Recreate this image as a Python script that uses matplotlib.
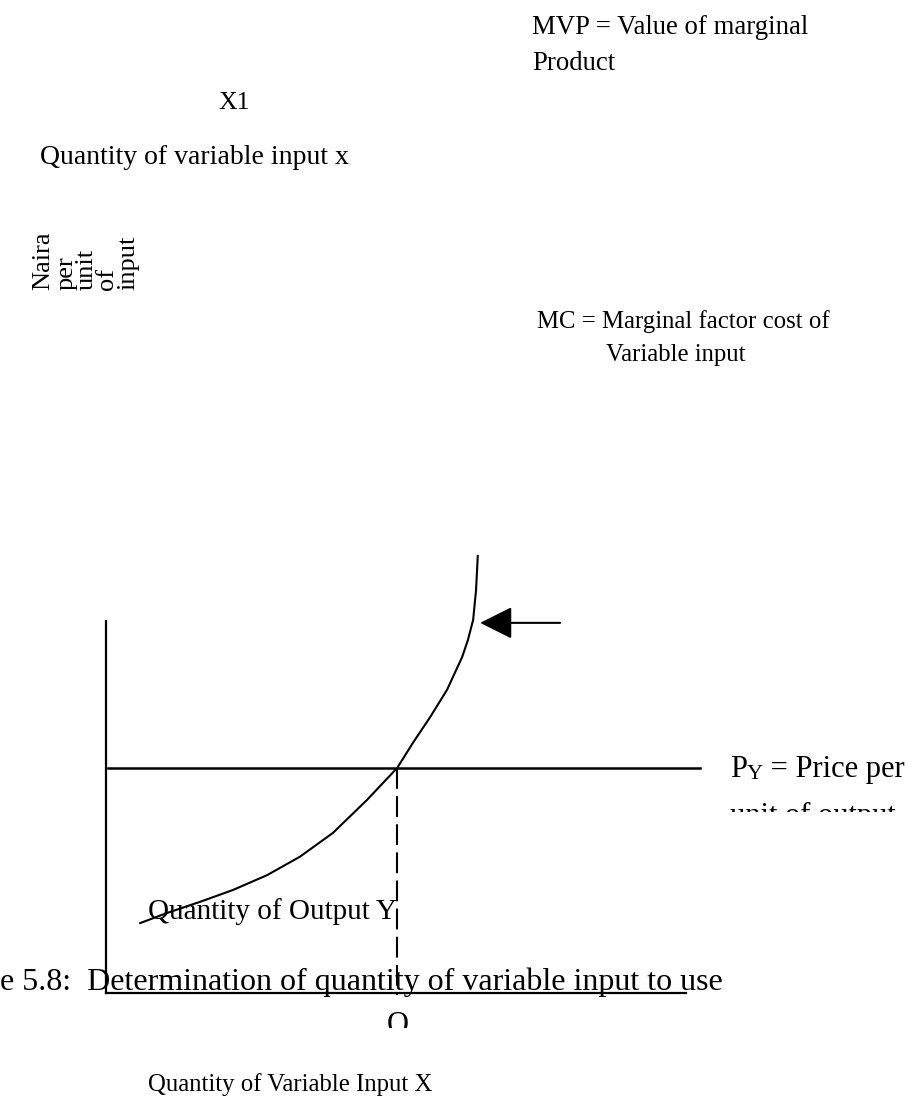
# Determination of quantity of variable input to use (fig 5.8 redraw)
import matplotlib.pyplot as plt
from matplotlib.patches import Rectangle

plt.rcParams['font.family'] = ['Liberation Serif', 'DejaVu Serif']

# ── DATA ───────────────────────────────────────────────
# MVP curve (chart units 0-10 on both axes)
mvp_x = [0.59, 1.05, 1.62, 2.19, 2.78, 3.34, 3.91, 4.50, 5.02,
         5.29, 5.59, 5.88, 6.14, 6.24, 6.33, 6.38, 6.41]
mvp_y = [1.88, 2.15, 2.45, 2.77, 3.17, 3.66, 4.30, 5.19, 6.05,
         6.72, 7.42, 8.15, 9.03, 9.49, 10.03, 10.83, 11.75]
price_y = 6.05          # Py line
price_x = [0.03, 10.24]
opt_x = 5.02            # optimum input level (dashed drop line)
arrow_y = 9.95
arrow_x = [7.83, 6.45]  # tail, tip

# ── FIGURE ─────────────────────────────────────────────
W, H = 915, 1108
fig = plt.figure(figsize=(W / 100, H / 100), dpi=100)

# page layer for the loose labels (pixel coords, y down)
page = fig.add_axes([0, 0, 1, 1])
page.set_xlim(0, W)
page.set_ylim(H, 0)
page.axis('off')

# chart axes
x0, y0, x1, y1 = 106, 993, 686, 621
ax = fig.add_axes([x0 / W, (H - y0) / H, (x1 - x0) / W, (y0 - y1) / H])
ax.set_xlim(0, 10)
ax.set_ylim(0, 10)
ax.patch.set_alpha(0)
for s in ['top', 'right']:
    ax.spines[s].set_visible(False)
for s in ['left', 'bottom']:
    ax.spines[s].set_linewidth(1.6)
ax.set_xticks([])
ax.set_yticks([])

ax.plot(mvp_x, mvp_y, color='black', lw=1.5, clip_on=False)
ax.plot(price_x, [price_y, price_y], color='black', lw=1.8, clip_on=False)
ax.plot([opt_x, opt_x], [price_y, -0.05], color='black', lw=1.5,
        linestyle=(0, (10, 3.5)), clip_on=False)
ax.annotate('', xy=(arrow_x[1], arrow_y), xytext=(arrow_x[0], arrow_y),
            arrowprops=dict(arrowstyle='-|>,head_length=1.0,head_width=0.5',
                            mutation_scale=20, lw=1.5, color='black',
                            shrinkA=0, shrinkB=0),
            annotation_clip=False)

# ── LABELS ─────────────────────────────────────────────
def label(x, y, s, fs, **kw):
    kw.setdefault('va', 'center')
    return page.text(x, y, s, color='black', fontsize=fs, **kw)

label(532, 28, 'MVP = Value of marginal', 19.3)
label(532, 63, 'Product', 19.3)
label(218, 103, 'X1', 18.5)
label(40, 158, 'Quantity of variable input x', 20)

# y-axis title, one rotated word per line
for xc, word in zip([43, 67, 87, 107, 128], ['Naira', 'per', 'unit', 'of', 'input']):
    label(xc, 290, word, 19, rotation=90, ha='center', va='bottom')

label(537, 322, 'MC = Marginal factor cost of', 17.8)
label(606, 355, 'Variable input', 17.8)

p = label(730, 777, 'P', 22, va='baseline')
py = page.annotate('Y', xy=(1, 0), xycoords=p, va='bottom', fontsize=16)
page.annotate(' = Price per', xy=(1, 0), xycoords=py, va='bottom', fontsize=22)

# second line of the Py note and the "O" are cut off in the original
label(730, 824, 'unit of output', 22, va='baseline')
page.add_patch(Rectangle((700, 812), 215, 30, facecolor='white',
                         edgecolor='none', zorder=5))

label(148, 912, 'Quantity of Output Y', 21)
label(0, 982, 'e 5.8:  Determination of quantity of variable input to use', 23)
label(398, 1033, 'O', 22, ha='center', va='baseline')
page.add_patch(Rectangle((370, 1028), 60, 30, facecolor='white',
                         edgecolor='none', zorder=5))
label(148, 1085, 'Quantity of Variable Input X', 17.8)

fig.savefig('out.png', dpi=100)
